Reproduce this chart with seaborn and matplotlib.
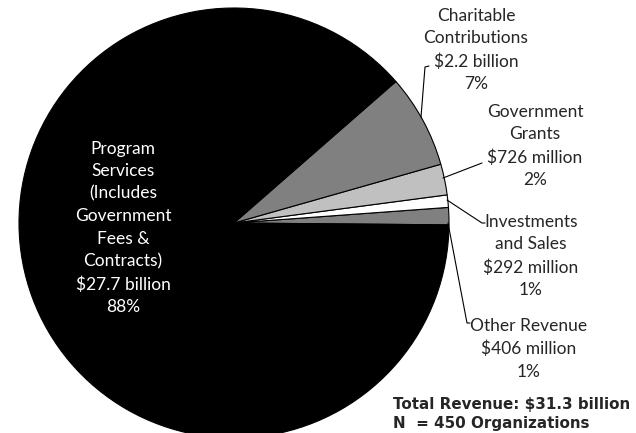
import matplotlib
matplotlib.use("Agg")
import matplotlib.pyplot as plt
import seaborn as sns

# données (ordre anti-horaire à partir de l'est)
labels = ["Other Revenue", "Investments and Sales", "Government Grants",
          "Charitable Contributions", "Program Services"]
amounts = [0.406, 0.292, 0.726, 2.2, 27.7]  # milliards $
slice_colors = ["#808080", "#ffffff", "#c0c0c0", "#808080", "#000000"]

program_text = "Program\nServices\n(Includes\nGovernment\nFees &\nContracts)\n$27.7 billion\n88%"
charitable_text = "Charitable\nContributions\n$2.2 billion\n7%"
grants_text = "Government\nGrants\n$726 million\n2%"
invest_text = "Investments\nand Sales\n$292 million\n1%"
other_text = "Other Revenue\n$406 million\n1%"
total_text = "Total Revenue: $31.3 billion\nN  = 450 Organizations"

sns.set_theme(style="white")
plt.rcParams['font.family'] = ['Lato', 'DejaVu Sans']

fig = plt.figure(figsize=(6.36, 4.33), dpi=100)
ax = fig.add_axes([0, 0, 1, 1])

ax.pie(amounts, colors=slice_colors, startangle=-0.5, counterclock=True,
       radius=215, wedgeprops=dict(edgecolor="black", linewidth=0.8))

# 1 unité = 1 pixel, centre du camembert en (234, 223)
ax.set_xlim(-234, 402)
ax.set_ylim(-210, 223)
ax.set_aspect("auto")
ax.axis("off")

fs = 12.5
ls = 1.5
ax.text(-111, -5, program_text, color="white", ha="center", va="center",
        fontsize=fs, linespacing=ls)
ax.text(242, 173, charitable_text, ha="center", va="center", fontsize=fs, linespacing=ls)
ax.text(301, 77, grants_text, ha="center", va="center", fontsize=fs, linespacing=ls)
ax.text(297, -33, invest_text, ha="center", va="center", fontsize=fs, linespacing=ls)
ax.text(295, -126, other_text, ha="center", va="center", fontsize=fs, linespacing=ls)
ax.text(159, -191, total_text, ha="left", va="center", fontsize=10.9,
        fontweight="bold", family="DejaVu Sans", linespacing=1.3)

# lignes de rappel
lw = 0.8
ax.plot([195, 191, 187], [157, 156, 106], color="black", lw=lw)
ax.plot([248, 209], [60, 45], color="black", lw=lw)
ax.plot([213, 248, 251], [23, 0, 0], color="black", lw=lw)
ax.plot([214, 233, 236], [0, -100, -100], color="black", lw=lw)

plt.savefig("out.png", dpi=100)
